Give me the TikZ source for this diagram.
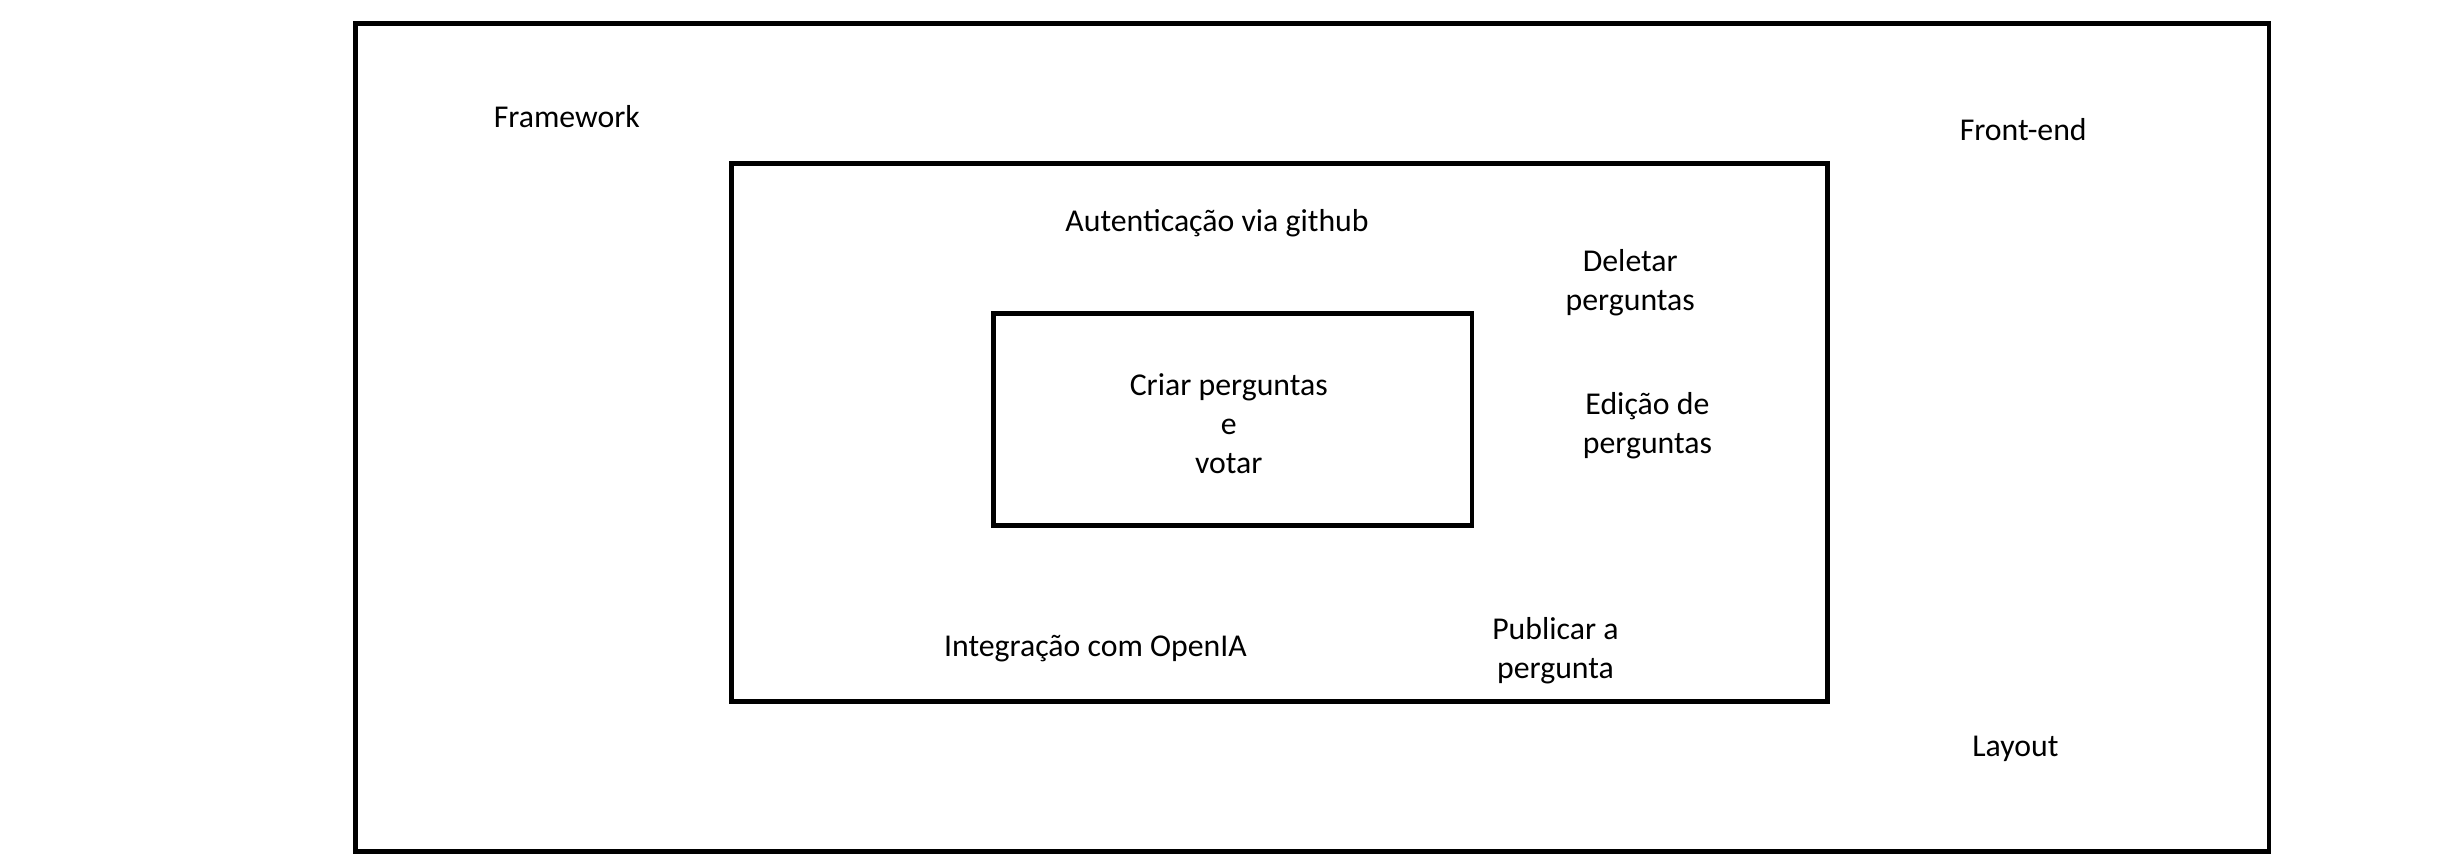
\documentclass[tikz,border=0pt]{standalone}
\usepackage{fontspec}
\setmainfont{Carlito}
\usetikzlibrary{positioning}
\tikzstyle{box} = [rectangle, draw=black, line width=1.7pt, fill=none]
\tikzstyle{label} = [align=center, font=\fontsize{11.6}{14.2}\selectfont, inner sep=0pt]
\begin{document}
\begin{tikzpicture}
					\useasboundingbox (0,0) rectangle (31.36,-11.08);
					\node[box, minimum width=24.54cm, minimum height=10.62cm] (frontend) at (16.83,-5.61) {};
					\node[box, minimum width=14.06cm, minimum height=6.90cm] (core) at (16.41,-5.55) {};
					\node[box, minimum width=6.14cm, minimum height=2.72cm] (votar) at (15.81,-5.38) {};
					\node[label] (criar) at (15.76,-5.43) {Criar perguntas\\e\\votar};
					\node[label] (framework) at (7.27,-1.49) {Framework};
					\node[label] (fend) at (25.95,-1.66) {Front-end};
					\node[label] (layout) at (25.85,-9.60) {Layout};
					\node[label] (auth) at (15.61,-2.86) {Autenticação via github};
					\node[label] (deletar) at (20.91,-3.62) {Deletar\\perguntas};
					\node[label] (edicao) at (21.13,-5.46) {Edição de\\perguntas};
					\node[label] (openia) at (14.05,-8.32) {Integração com OpenIA};
					\node[label] (publicar) at (19.95,-8.34) {Publicar a\\pergunta};
				\end{tikzpicture}
\end{document}
